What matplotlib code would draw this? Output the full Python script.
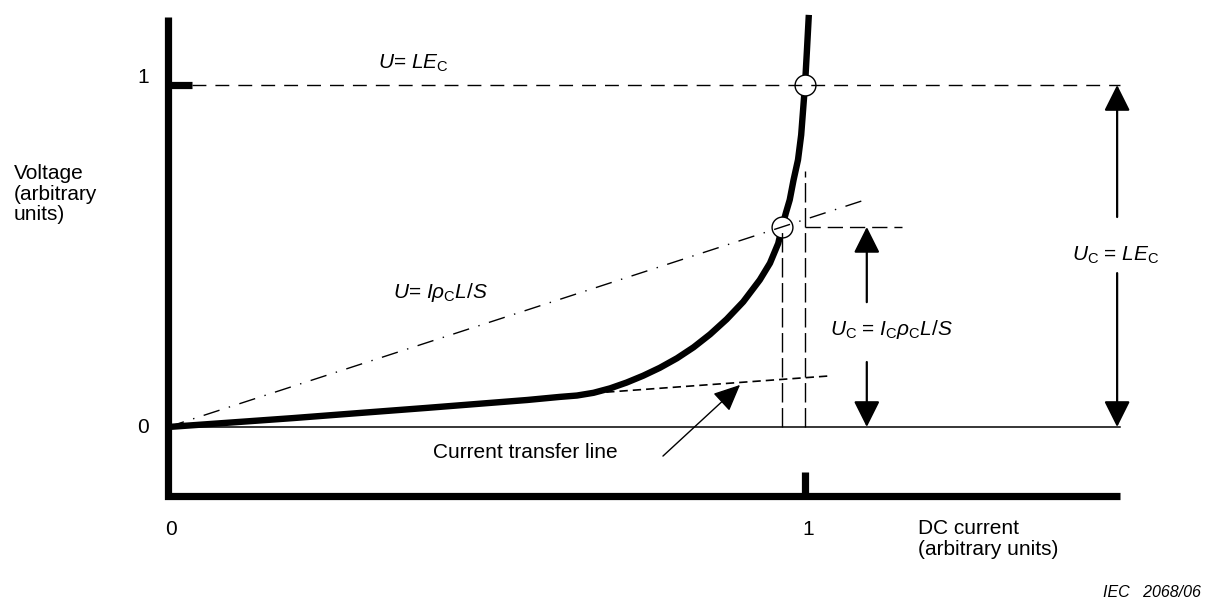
import matplotlib
matplotlib.use("Agg")
import matplotlib.pyplot as plt
import numpy as np

plt.rcParams['font.family'] = ['Liberation Sans', 'DejaVu Sans']
plt.rcParams['mathtext.fontset'] = 'custom'
plt.rcParams['mathtext.rm'] = 'Liberation Sans'
plt.rcParams['mathtext.it'] = 'Liberation Sans:italic'
plt.rcParams['mathtext.bf'] = 'Liberation Sans:bold'

# ---------------- data (arbitrary units) ----------------
current = [0.0, 0.196, 0.301, 0.407, 0.564, 0.615, 0.642, 0.668, 0.694,
           0.720, 0.746, 0.772, 0.799, 0.825, 0.851, 0.877, 0.903, 0.929,
           0.945, 0.958, 0.964, 0.970, 0.976, 0.982, 0.989, 0.994, 0.997,
           1.000, 1.003, 1.006]
voltage = [0.0, 0.026, 0.041, 0.056, 0.079, 0.088, 0.092, 0.100, 0.113,
           0.130, 0.150, 0.173, 0.201, 0.233, 0.271, 0.315, 0.366, 0.430,
           0.479, 0.537, 0.585, 0.626, 0.664, 0.722, 0.781, 0.854, 0.927,
           1.000, 1.100, 1.205]

I_c = 0.964          # critical current (resistivity criterion)
U_c = 0.585          # critical voltage (resistivity criterion)
I_e = 1.0            # critical current (field criterion)
U_e = 1.0            # U = L*E_c
U_e_dash_top = 0.75  # top of vertical dashed line at I_e

resist_line_x = [0.0, 1.102]
resist_slope = U_c / I_c

transfer_x = [0.667, 1.036]
transfer_y = [0.099, 0.149]

x_ticks = [0, 1]
y_ticks = [0, 1]
x_tick_labels = ['0', '1']
y_tick_labels = ['0', '1']

# ---------------- layout ----------------
fig = plt.figure(figsize=(12.13, 6.06), dpi=100)
ax = fig.add_axes([0, 0, 1, 1])
ax.set_xlim(-0.26374, 1.64050)
ax.set_ylim(-0.52339, 1.24854)
ax.axis('off')

x_axis_y = -0.2018
x_end = 1.4945
y_top = 1.199

# thick axes
ax.plot([0, 0, x_end], [y_top, x_axis_y, x_axis_y], color='black', lw=5.2,
        solid_joinstyle='miter', solid_capstyle='butt', zorder=2)
# ticks at 1
ax.plot([0, 0.038], [y_ticks[1], y_ticks[1]], color='black', lw=5.2,
        solid_capstyle='butt', zorder=2)
ax.plot([x_ticks[1], x_ticks[1]], [x_axis_y, -0.132], color='black', lw=5.2,
        solid_capstyle='butt', zorder=2)

# zero-voltage baseline
ax.plot([0, x_end], [0, 0], color='black', lw=1.1, zorder=2)

# U = L E_c dashed line
ax.plot([0.038, x_end], [U_e, U_e], color='black', lw=1.0,
        linestyle=(0, (10, 6.5)), zorder=4)

# resistivity line U = I rho L / S (dash-dot)
ax.plot(resist_line_x, [resist_slope * v for v in resist_line_x], color='black',
        lw=1.0, linestyle=(0, (12, 7, 1, 7)), zorder=4)

# current transfer line
ax.plot(transfer_x, transfer_y, color='black', lw=1.2,
        linestyle=(0, (5, 3)), zorder=4)

# V-I curve
ax.plot(current, voltage, color='black', lw=4.6, solid_capstyle='butt',
        solid_joinstyle='round', zorder=2)

# construction dashed lines
ax.plot([I_c, I_c], [0, U_c], color='black', lw=1.0,
        linestyle=(0, (14, 4)), zorder=4)
ax.plot([I_e, I_e], [0, U_e_dash_top], color='black', lw=1.0,
        linestyle=(0, (14, 4)), zorder=4)
ax.plot([I_e, 1.152], [U_c, U_c], color='black', lw=1.0,
        linestyle=(0, (11, 5)), zorder=4)

# circles at the critical points
ax.plot([I_c, I_e], [U_c, U_e], linestyle='none', marker='o', markersize=15,
        markerfacecolor='white', markeredgecolor='black', markeredgewidth=1.0,
        zorder=3)

# double arrows
def arrow(tail, tip):
    ax.annotate('', xy=tip, xytext=tail,
                arrowprops=dict(arrowstyle='-|>,head_length=1.0,head_width=0.5',
                                mutation_scale=16, lw=1.6, color='black',
                                shrinkA=0, shrinkB=0), zorder=5)

xa = 1.097
arrow((xa, 0.365), (xa, U_c))
arrow((xa, 0.190), (xa, 0.0))
xb = 1.49
arrow((xb, 0.614), (xb, U_e))
arrow((xb, 0.450), (xb, 0.0))

# pointer to current transfer line
ax.annotate('', xy=(0.898, 0.123), xytext=(0.777, -0.085),
            arrowprops=dict(arrowstyle='-|>,head_length=1.1,head_width=0.5',
                            mutation_scale=15, lw=1.0, color='black',
                            shrinkA=0, shrinkB=0), zorder=5)

# ---------------- text ----------------
fs = 15
for v, lab in zip(y_ticks, y_tick_labels):
    ax.text(-0.039, v + (0.023 if v == 1 else 0.0), lab, fontsize=fs,
            ha='center', va='center')
for v, lab in zip(x_ticks, x_tick_labels):
    ax.text(v + 0.005, -0.301, lab, fontsize=fs, ha='center', va='center')

ax.text(-0.242, 0.681, 'Voltage\n(arbitrary\nunits)', fontsize=fs,
        ha='left', va='center', linespacing=1.1)
ax.text(1.177, -0.327, 'DC current\n(arbitrary units)', fontsize=fs,
        ha='left', va='center', linespacing=1.1)
ax.text(0.416, -0.076, 'Current transfer line', fontsize=fs,
        ha='left', va='center')
ax.text(1.622, -0.485, 'IEC   2068/06', fontsize=11.5, style='italic',
        ha='right', va='center')

ax.text(0.330, 1.064, r'$U$= $LE_\mathrm{C}$', fontsize=fs, ha='left', va='center')
ax.text(0.353, 0.392, r'$U$= $I\rho_\mathrm{C}L/S$', fontsize=fs, ha='left', va='center')
ax.text(1.039, 0.284, r'$U_\mathrm{C}$ = $I_\mathrm{C}\rho_\mathrm{C}L/S$', fontsize=fs,
        ha='left', va='center')
ax.text(1.419, 0.503, r'$U_\mathrm{C}$ = $LE_\mathrm{C}$', fontsize=fs,
        ha='left', va='center')

fig.savefig('out.png', dpi=100, facecolor='white')
